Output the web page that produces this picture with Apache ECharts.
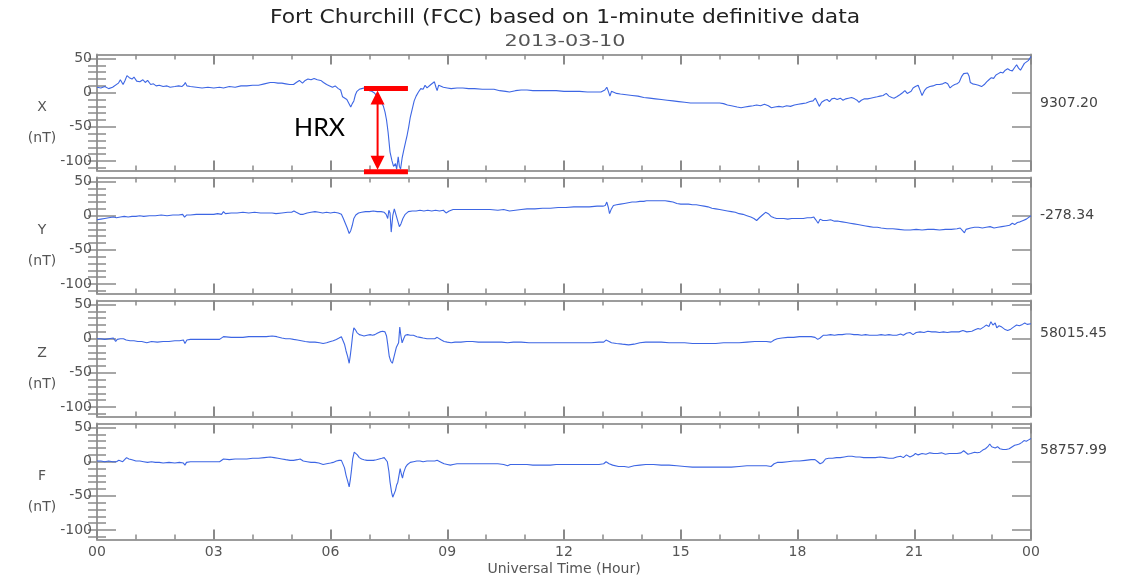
<!DOCTYPE html>
<html><head><meta charset="utf-8">
<script src="https://cdn.jsdelivr.net/npm/echarts@6/dist/echarts.min.js"></script>
<style>html,body{margin:0;padding:0;background:#fff}#c{width:1138px;height:577px}</style>
</head><body><div id="c"></div>
<script>
const titleText = 'Fort Churchill (FCC) based on 1-minute definitive data';
const dateText = '2013-03-10';
const xAxisTitle = 'Universal Time (Hour)';
const componentNames = ['X', 'Y', 'Z', 'F'];
const baselineLabels = ['9307.20', '-278.34', '58015.45', '58757.99'];
const xTickLabels = ['00', '03', '06', '09', '12', '15', '18', '21', '00'];
const yTickValues = [-100, -50, 0, 50];
const yMinorTickValues = [-110, -100, -90, -80, -70, -60, -50, -40, -30, -20, -10, 0, 10, 20, 30, 40, 50];

// [hour, nT]
const dataX = [[0.00,8],[0.10,7],[0.20,9],[0.30,6],[0.40,8],[0.45,7],[0.55,14],[0.60,19],[0.67,12],[0.72,18],[0.77,25],[0.83,22],[0.90,20],[0.95,23],[1.02,17],[1.10,16],[1.18,19],[1.24,15],[1.30,18],[1.38,12],[1.45,13],[1.52,10],[1.60,11],[1.70,9],[1.80,10],[1.88,8],[2.00,9],[2.10,10],[2.18,9],[2.24,12],[2.27,15],[2.31,10],[2.40,9],[2.55,8],[2.70,7],[2.85,8],[3.00,7],[3.15,8],[3.25,7],[3.40,9],[3.55,8],[3.70,10],[3.85,10],[4.00,11],[4.15,11],[4.30,13],[4.45,15],[4.55,15],[4.65,14],[4.75,14],[4.85,13],[4.95,12],[5.05,12],[5.12,15],[5.20,18],[5.28,14],[5.35,18],[5.42,20],[5.50,19],[5.58,21],[5.66,19],[5.75,18],[5.82,15],[5.90,12],[5.98,10],[6.05,8],[6.12,10],[6.20,6],[6.26,4],[6.31,-6],[6.36,-4],[6.42,-10],[6.47,-8],[6.52,-21],[6.56,-16],[6.60,-12],[6.64,-3],[6.68,2],[6.74,5],[6.80,6],[6.86,7],[6.92,5],[7.00,3],[7.06,2],[7.12,0],[7.18,-4],[7.24,-9],[7.30,-13],[7.36,-20],[7.40,-28],[7.44,-40],[7.48,-58],[7.53,-87],[7.58,-100],[7.62,-108],[7.67,-104],[7.70,-112],[7.74,-94],[7.77,-108],[7.80,-112],[7.84,-96],[7.88,-85],[7.93,-72],[7.97,-62],[8.01,-50],[8.05,-36],[8.10,-24],[8.15,-12],[8.20,-5],[8.26,1],[8.32,6],[8.38,5],[8.43,11],[8.48,7],[8.53,6],[8.58,12],[8.63,10],[8.67,16],[8.71,8],[8.74,3],[8.78,11],[8.83,9],[8.90,8],[9.00,7],[9.10,6],[9.25,7],[9.40,7],[9.55,6],[9.70,6],[9.90,5],[10.05,5],[10.20,5],[10.35,3],[10.50,2],[10.60,1],[10.75,3],[10.90,4],[11.05,4],[11.20,3],[11.40,3],[11.60,3],[11.80,3],[12.00,2],[12.20,2],[12.40,2],[12.60,1],[12.80,1],[12.95,1],[13.05,4],[13.10,8],[13.14,2],[13.18,-5],[13.22,2],[13.27,0],[13.35,-1],[13.45,-2],[13.60,-3],[13.75,-4],[13.90,-5],[14.05,-7],[14.20,-8],[14.35,-9],[14.50,-10],[14.65,-11],[14.80,-12],[14.95,-13],[15.10,-14],[15.25,-15],[15.40,-15],[15.55,-15],[15.70,-15],[15.85,-15],[16.00,-15],[16.10,-16],[16.20,-18],[16.30,-19],[16.45,-21],[16.55,-22],[16.65,-21],[16.75,-20],[16.86,-19],[16.95,-18],[17.05,-19],[17.15,-17],[17.25,-19],[17.33,-22],[17.42,-21],[17.52,-20],[17.62,-21],[17.72,-19],[17.82,-20],[17.92,-18],[18.02,-17],[18.12,-16],[18.22,-15],[18.32,-13],[18.40,-12],[18.46,-8],[18.51,-14],[18.56,-20],[18.62,-14],[18.70,-11],[18.76,-10],[18.82,-13],[18.88,-9],[18.95,-8],[19.02,-10],[19.10,-8],[19.17,-11],[19.24,-9],[19.31,-8],[19.39,-7],[19.47,-9],[19.53,-11],[19.58,-14],[19.64,-11],[19.72,-9],[19.80,-9],[19.88,-8],[19.96,-7],[20.05,-6],[20.12,-5],[20.20,-4],[20.28,-1],[20.35,-5],[20.42,-7],[20.48,-8],[20.55,-6],[20.63,-3],[20.70,0],[20.76,3],[20.82,-1],[20.87,-2],[20.92,2],[20.97,7],[21.03,9],[21.10,11],[21.16,2],[21.20,-4],[21.26,3],[21.32,7],[21.40,9],[21.48,10],[21.57,12],[21.65,12],[21.73,13],[21.80,15],[21.86,13],[21.92,7],[21.98,10],[22.04,12],[22.10,13],[22.16,16],[22.22,24],[22.27,28],[22.32,27],[22.37,29],[22.41,24],[22.44,15],[22.50,13],[22.58,12],[22.65,11],[22.73,9],[22.80,12],[22.86,16],[22.92,19],[22.98,22],[23.04,21],[23.10,26],[23.16,28],[23.22,30],[23.28,29],[23.34,33],[23.40,35],[23.46,33],[23.52,32],[23.58,37],[23.63,41],[23.68,36],[23.73,33],[23.78,35],[23.83,43],[23.88,41],[23.93,47],[24.00,53]];

const dataY = [[0.00,-6],[0.10,-5],[0.20,-4],[0.30,-3],[0.35,-5],[0.42,-2],[0.50,-3],[0.60,-2],[0.70,-1],[0.80,-2],[0.90,-1],[1.00,-1],[1.10,0],[1.20,-1],[1.35,0],[1.50,0],[1.65,1],[1.80,0],[1.95,1],[2.10,1],[2.20,2],[2.25,-2],[2.30,1],[2.40,1],[2.55,2],[2.70,2],[2.85,2],[3.00,2],[3.10,3],[3.20,2],[3.25,6],[3.30,3],[3.45,4],[3.60,4],[3.75,5],[3.90,4],[4.05,5],[4.20,4],[4.35,4],[4.50,4],[4.60,3],[4.65,5],[4.75,4],[4.90,5],[5.00,5],[5.06,7],[5.12,5],[5.22,2],[5.30,2],[5.40,4],[5.50,5],[5.60,6],[5.70,5],[5.80,4],[5.90,5],[6.00,4],[6.10,5],[6.20,4],[6.28,2],[6.33,-4],[6.38,-11],[6.43,-18],[6.48,-26],[6.52,-22],[6.56,-14],[6.60,-4],[6.65,1],[6.72,4],[6.80,5],[6.90,6],[7.00,6],[7.10,7],[7.20,6],[7.30,6],[7.38,5],[7.43,2],[7.47,-4],[7.50,8],[7.53,4],[7.56,-24],[7.60,0],[7.64,10],[7.68,2],[7.72,-6],[7.77,-16],[7.81,-12],[7.86,-4],[7.92,2],[8.00,6],[8.10,7],[8.20,7],[8.30,8],[8.40,7],[8.50,8],[8.60,7],[8.70,8],[8.80,7],[8.90,8],[8.97,4],[9.05,7],[9.15,9],[9.30,9],[9.50,9],[9.70,9],[9.90,9],[10.10,9],[10.30,8],[10.45,9],[10.60,7],[10.75,8],[10.90,9],[11.05,10],[11.25,10],[11.45,11],[11.65,11],[11.85,12],[12.05,12],[12.25,13],[12.45,13],[12.65,13],[12.85,14],[13.00,14],[13.06,15],[13.10,20],[13.14,12],[13.17,3],[13.21,9],[13.27,15],[13.35,16],[13.45,17],[13.55,18],[13.65,19],[13.75,20],[13.85,20],[13.95,21],[14.05,21],[14.12,22],[14.20,22],[14.30,22],[14.40,22],[14.50,22],[14.60,22],[14.70,21],[14.80,20],[14.90,18],[15.00,17],[15.10,17],[15.20,17],[15.30,16],[15.40,16],[15.50,15],[15.60,14],[15.70,13],[15.80,11],[15.90,10],[16.00,9],[16.10,8],[16.20,7],[16.30,6],[16.40,5],[16.50,3],[16.60,2],[16.70,0],[16.80,-2],[16.88,-4],[16.95,-7],[17.02,-3],[17.10,1],[17.18,5],[17.25,3],[17.32,-1],[17.40,-3],[17.46,-4],[17.55,-4],[17.65,-4],[17.75,-5],[17.85,-4],[17.95,-4],[18.05,-4],[18.15,-4],[18.25,-3],[18.35,-3],[18.42,-2],[18.47,-6],[18.53,-11],[18.58,-5],[18.65,-7],[18.75,-7],[18.85,-6],[18.95,-8],[19.05,-8],[19.15,-9],[19.25,-10],[19.35,-11],[19.45,-12],[19.55,-13],[19.65,-14],[19.75,-15],[19.85,-16],[19.95,-17],[20.05,-17],[20.15,-18],[20.30,-19],[20.45,-19],[20.60,-20],[20.75,-21],[20.90,-21],[21.05,-20],[21.20,-21],[21.35,-20],[21.50,-20],[21.65,-21],[21.80,-20],[21.95,-20],[22.10,-19],[22.18,-18],[22.24,-22],[22.29,-25],[22.33,-20],[22.38,-19],[22.45,-18],[22.55,-17],[22.65,-17],[22.75,-18],[22.85,-17],[22.95,-16],[23.05,-18],[23.15,-17],[23.25,-16],[23.35,-15],[23.45,-14],[23.52,-11],[23.58,-13],[23.65,-10],[23.72,-9],[23.80,-7],[23.88,-5],[23.95,-2],[24.00,0]];

const dataZ = [[0.00,0],[0.10,0],[0.20,-1],[0.30,0],[0.35,-1],[0.42,1],[0.48,-4],[0.52,-1],[0.60,0],[0.68,0],[0.75,-2],[0.85,-3],[0.95,-3],[1.05,-4],[1.15,-4],[1.28,-6],[1.40,-4],[1.55,-5],[1.70,-4],[1.85,-4],[2.00,-3],[2.12,-3],[2.22,-2],[2.26,-7],[2.31,-2],[2.40,-1],[2.55,-1],[2.70,-1],[2.85,-1],[3.00,-1],[3.15,-1],[3.20,0],[3.25,3],[3.30,2],[3.45,2],[3.60,2],[3.75,2],[3.90,3],[4.05,3],[4.20,3],[4.35,3],[4.50,4],[4.62,3],[4.75,1],[4.85,0],[4.96,0],[5.05,-1],[5.15,-2],[5.25,-3],[5.35,-4],[5.47,-5],[5.60,-5],[5.72,-6],[5.81,-7],[5.90,-6],[6.00,-4],[6.07,-3],[6.15,-1],[6.22,1],[6.28,3],[6.32,1],[6.36,-8],[6.40,-18],[6.44,-26],[6.48,-36],[6.51,-24],[6.54,-10],[6.57,6],[6.60,16],[6.64,13],[6.68,9],[6.74,6],[6.80,5],[6.86,4],[6.94,5],[7.02,6],[7.08,5],[7.14,6],[7.20,8],[7.27,10],[7.34,11],[7.40,10],[7.44,4],[7.47,-8],[7.51,-26],[7.55,-33],[7.59,-36],[7.63,-35],[7.66,-20],[7.69,-13],[7.72,-12],[7.75,-6],[7.78,17],[7.81,4],[7.84,-6],[7.88,0],[7.92,5],[7.98,6],[8.05,5],[8.13,5],[8.22,3],[8.30,2],[8.38,1],[8.48,0],[8.58,0],[8.68,0],[8.74,2],[8.78,0],[8.85,-2],[8.92,-4],[9.00,-5],[9.10,-6],[9.20,-5],[9.35,-5],[9.50,-4],[9.65,-4],[9.80,-5],[10.00,-5],[10.20,-5],[10.40,-5],[10.55,-6],[10.70,-5],[10.90,-5],[11.10,-6],[11.30,-6],[11.50,-6],[11.70,-6],[11.90,-6],[12.10,-6],[12.30,-6],[12.50,-6],[12.70,-6],[12.90,-5],[13.02,-5],[13.08,-2],[13.12,-1],[13.16,-4],[13.22,-6],[13.35,-7],[13.50,-8],[13.66,-9],[13.80,-8],[13.95,-6],[14.10,-5],[14.30,-5],[14.50,-5],[14.70,-6],[14.90,-6],[15.10,-6],[15.30,-7],[15.50,-7],[15.70,-7],[15.90,-7],[16.10,-6],[16.30,-6],[16.50,-6],[16.70,-5],[16.90,-4],[17.05,-4],[17.20,-4],[17.32,-5],[17.40,-2],[17.48,0],[17.60,1],[17.75,2],[17.90,2],[18.05,3],[18.20,3],[18.35,3],[18.45,2],[18.52,-1],[18.58,1],[18.66,5],[18.75,5],[18.85,6],[18.95,5],[19.05,6],[19.15,6],[19.25,7],[19.35,7],[19.45,6],[19.55,6],[19.65,5],[19.75,6],[19.85,5],[19.95,5],[20.05,5],[20.15,6],[20.25,5],[20.35,6],[20.45,5],[20.55,5],[20.65,7],[20.72,5],[20.80,8],[20.89,9],[20.97,6],[21.05,9],[21.15,10],[21.25,9],[21.35,11],[21.45,10],[21.55,10],[21.65,9],[21.75,10],[21.85,9],[21.95,10],[22.05,10],[22.15,10],[22.25,12],[22.30,14],[22.35,10],[22.40,8],[22.48,11],[22.56,13],[22.64,15],[22.70,14],[22.78,17],[22.85,20],[22.92,18],[22.97,25],[23.02,20],[23.08,23],[23.12,16],[23.18,19],[23.25,17],[23.32,14],[23.40,12],[23.48,14],[23.55,17],[23.63,20],[23.70,19],[23.78,21],[23.84,23],[23.90,21],[23.95,23],[24.00,22]];

const dataF = [[0.00,1],[0.10,1],[0.20,0],[0.30,1],[0.40,0],[0.50,0],[0.56,2],[0.61,4],[0.66,0],[0.71,3],[0.76,6],[0.82,4],[0.90,3],[1.00,1],[1.10,1],[1.20,0],[1.30,-1],[1.40,0],[1.50,-1],[1.60,-1],[1.70,-2],[1.85,-1],[2.00,-2],[2.12,-1],[2.22,-2],[2.26,-5],[2.30,-1],[2.40,0],[2.55,0],[2.70,0],[2.85,0],[3.00,0],[3.15,0],[3.20,-1],[3.25,4],[3.30,5],[3.40,3],[3.55,4],[3.70,4],[3.85,4],[4.00,5],[4.15,5],[4.30,6],[4.45,7],[4.55,6],[4.65,5],[4.75,4],[4.85,3],[4.96,2],[5.05,2],[5.15,3],[5.22,4],[5.30,1],[5.40,0],[5.50,-1],[5.60,-1],[5.70,-2],[5.81,-4],[5.90,-3],[6.00,-2],[6.07,-1],[6.15,1],[6.22,2],[6.28,2],[6.32,0],[6.36,-9],[6.40,-20],[6.44,-28],[6.48,-37],[6.51,-26],[6.54,-12],[6.57,4],[6.61,14],[6.65,13],[6.69,10],[6.74,6],[6.80,4],[6.86,3],[6.94,2],[7.02,2],[7.10,2],[7.18,3],[7.25,4],[7.32,5],[7.38,6],[7.43,6],[7.46,0],[7.50,-14],[7.53,-30],[7.57,-45],[7.60,-52],[7.64,-52],[7.67,-42],[7.70,-34],[7.73,-30],[7.76,-20],[7.79,-10],[7.82,-18],[7.85,-24],[7.88,-16],[7.93,-8],[7.98,-4],[8.05,-1],[8.13,0],[8.22,1],[8.30,1],[8.38,0],[8.48,1],[8.58,1],[8.68,1],[8.74,2],[8.79,0],[8.85,-1],[8.92,-3],[9.00,-4],[9.08,-5],[9.15,-4],[9.25,-3],[9.40,-3],[9.55,-3],[9.70,-3],[9.85,-3],[10.00,-3],[10.15,-3],[10.30,-3],[10.45,-4],[10.55,-6],[10.62,-4],[10.75,-4],[10.90,-4],[11.05,-4],[11.20,-5],[11.35,-5],[11.50,-5],[11.65,-5],[11.80,-4],[11.95,-4],[12.10,-4],[12.30,-4],[12.50,-4],[12.70,-4],[12.90,-4],[13.02,-3],[13.08,0],[13.12,1],[13.16,-3],[13.25,-5],[13.40,-7],[13.55,-7],[13.66,-8],[13.80,-6],[13.95,-5],[14.10,-4],[14.30,-4],[14.50,-5],[14.70,-5],[14.90,-6],[15.10,-7],[15.30,-8],[15.50,-8],[15.70,-8],[15.90,-8],[16.10,-8],[16.30,-8],[16.50,-7],[16.70,-6],[16.90,-6],[17.05,-6],[17.20,-6],[17.32,-7],[17.40,-3],[17.48,-1],[17.60,-1],[17.75,0],[17.90,1],[18.05,1],[18.20,2],[18.35,3],[18.45,3],[18.52,0],[18.58,-3],[18.65,-1],[18.72,4],[18.80,5],[18.90,5],[19.00,6],[19.10,6],[19.20,7],[19.30,8],[19.40,8],[19.50,7],[19.60,7],[19.70,6],[19.80,6],[19.90,6],[20.00,6],[20.12,7],[20.25,6],[20.35,5],[20.46,5],[20.55,7],[20.65,8],[20.72,6],[20.80,10],[20.89,7],[20.97,9],[21.03,12],[21.10,10],[21.20,12],[21.30,11],[21.40,13],[21.50,12],[21.60,12],[21.70,13],[21.80,11],[21.90,12],[22.00,12],[22.10,12],[22.20,13],[22.27,16],[22.32,17],[22.38,11],[22.45,12],[22.55,14],[22.62,13],[22.69,14],[22.76,17],[22.83,19],[22.89,22],[22.94,26],[22.99,22],[23.03,24],[23.08,20],[23.14,22],[23.20,19],[23.28,18],[23.36,18],[23.44,19],[23.52,22],[23.58,24],[23.64,25],[23.70,26],[23.76,28],[23.82,31],[23.88,30],[23.94,32],[24.00,34]];

// HRX annotation in data coordinates of the X panel
const hrxLabel = 'HRX';
const hrxBarStartHour = 6.86;
const hrxBarEndHour = 7.99;
const hrxArrowHour = 7.21;
const hrxTopValue = 6;
const hrxBottomValue = -116;
const hrxTextHour = 5.72;
const hrxTextValue = -51;
</script>
<script>
const seriesData = [dataX, dataY, dataZ, dataF];
const chart = echarts.init(document.getElementById('c'), null, {renderer: 'canvas'});
const FONT = 'DejaVu Sans';
const gridTops = [54.5, 177.5, 300.5, 423.5];
const GRID_H = 116, GRID_L = 97, GRID_R = 107;
const Y_MIN = -114, Y_MAX = 56;
const frameColor = '#9c9c9c';
const tickColor = '#8a8a8a';
const labelColor = '#555';
const lineColor = '#3d66e4';
// vertical placement of the baseline value text in each panel (pixels)
const baselineTextY = [103, 215, 333, 450];

const grids = [], xAxes = [], yAxes = [], series = [];
for (let i = 0; i < 4; i++) {
  grids.push({left: GRID_L, right: GRID_R, top: gridTops[i], height: GRID_H, outerBoundsMode: 'none', containLabel: false});
  const isLast = i === 3;
  const xCommon = {
    type: 'value', gridIndex: i, min: 0, max: 24, interval: 3,
    axisLine: {show: true, onZero: false, lineStyle: {color: frameColor, width: 2}},
    axisTick: {show: true, inside: true, length: 10, lineStyle: {color: tickColor, width: 2}},
    minorTick: {show: true, splitNumber: 3, length: 5, lineStyle: {color: tickColor, width: 1.5}},
    splitLine: {show: false}, minorSplitLine: {show: false}
  };
  xAxes.push(Object.assign({}, xCommon, {
    position: 'bottom',
    axisLabel: {show: isLast, margin: 6, color: labelColor, fontFamily: FONT, fontSize: 14,
      formatter: v => xTickLabels[Math.round(v / 3)]},
    name: isLast ? xAxisTitle : '', nameLocation: 'middle', nameGap: 23,
    nameTextStyle: {color: labelColor, fontFamily: FONT, fontSize: 14}
  }));
  xAxes.push(Object.assign({}, xCommon, {position: 'top', axisLabel: {show: false}}));

  const yCommon = {type: 'value', gridIndex: i, min: Y_MIN, max: Y_MAX, splitLine: {show: false}};
  yAxes.push(Object.assign({}, yCommon, {
    position: 'left',
    axisLine: {show: true, onZero: false, lineStyle: {color: frameColor, width: 2}},
    axisTick: {show: true, inside: true, length: 19, customValues: yTickValues, lineStyle: {color: tickColor, width: 1.5}},
    axisLabel: {show: true, margin: 5, customValues: yTickValues, color: labelColor, fontFamily: FONT, fontSize: 14}
  }));
  yAxes.push(Object.assign({}, yCommon, {
    position: 'left',
    axisLine: {show: false},
    axisTick: {show: true, inside: true, length: 9, customValues: yMinorTickValues, lineStyle: {color: tickColor, width: 1.5}},
    axisLabel: {show: false}
  }));
  yAxes.push(Object.assign({}, yCommon, {
    position: 'right',
    axisLine: {show: true, onZero: false, lineStyle: {color: frameColor, width: 2}},
    axisTick: {show: true, inside: true, length: 19, customValues: yTickValues, lineStyle: {color: tickColor, width: 1.5}},
    axisLabel: {show: false}
  }));
  yAxes.push(Object.assign({}, yCommon, {
    position: 'right',
    axisLine: {show: false},
    axisTick: {show: true, inside: true, length: 9, customValues: yMinorTickValues, lineStyle: {color: tickColor, width: 1.5}},
    axisLabel: {show: false}
  }));
  series.push({
    type: 'line', name: componentNames[i], xAxisIndex: i * 2, yAxisIndex: i * 4,
    data: seriesData[i], showSymbol: false, symbol: 'none', animation: false,
    lineStyle: {color: lineColor, width: 1.1}, clip: true
  });
}

chart.setOption({
  backgroundColor: '#fff', animation: false,
  grid: grids, xAxis: xAxes, yAxis: yAxes, series: series
});

// Text and annotation overlays
const g = [];
g.push({type: 'text', x: 565, y: 18, scaleX: 1.15, style: {text: titleText, fill: '#222', font: '19px "' + FONT + '"', align: 'center', verticalAlign: 'middle'}});
g.push({type: 'text', x: 565, y: 42, scaleX: 1.3, style: {text: dateText, fill: '#555', font: '16px "' + FONT + '"', align: 'center', verticalAlign: 'middle'}});
for (let i = 0; i < 4; i++) {
  const zero = chart.convertToPixel({seriesIndex: i}, [24, 0]);
  g.push({type: 'text', x: 42, y: zero[1] + 15, style: {text: componentNames[i], fill: labelColor, font: '14px "' + FONT + '"', align: 'center', verticalAlign: 'middle'}});
  g.push({type: 'text', x: 42, y: zero[1] + 46, style: {text: '(nT)', fill: labelColor, font: '14px "' + FONT + '"', align: 'center', verticalAlign: 'middle'}});
  g.push({type: 'text', x: zero[0] + 9, y: baselineTextY[i], style: {text: baselineLabels[i], fill: '#444', font: '14px "' + FONT + '"', align: 'left', verticalAlign: 'middle'}});
}
const pTopL = chart.convertToPixel({seriesIndex: 0}, [hrxBarStartHour, hrxTopValue]);
const pTopR = chart.convertToPixel({seriesIndex: 0}, [hrxBarEndHour, hrxTopValue]);
const pBotL = chart.convertToPixel({seriesIndex: 0}, [hrxBarStartHour, hrxBottomValue]);
const pBotR = chart.convertToPixel({seriesIndex: 0}, [hrxBarEndHour, hrxBottomValue]);
const pArrT = chart.convertToPixel({seriesIndex: 0}, [hrxArrowHour, hrxTopValue]);
const pArrB = chart.convertToPixel({seriesIndex: 0}, [hrxArrowHour, hrxBottomValue]);
const pTxt = chart.convertToPixel({seriesIndex: 0}, [hrxTextHour, hrxTextValue]);
const red = '#ff0000';
g.push({type: 'rect', shape: {x: pTopL[0], y: pTopL[1] - 2.5, width: pTopR[0] - pTopL[0], height: 5}, style: {fill: red}, z: 100});
g.push({type: 'rect', shape: {x: pBotL[0], y: pBotL[1] - 2.5, width: pBotR[0] - pBotL[0], height: 5}, style: {fill: red}, z: 100});
const ax = pArrT[0], ty = pArrT[1] + 2, by = pArrB[1] - 2;
g.push({type: 'line', shape: {x1: ax, y1: ty + 10, x2: ax, y2: by - 10}, style: {stroke: red, lineWidth: 2}, z: 100});
g.push({type: 'polygon', shape: {points: [[ax, ty], [ax - 7, ty + 14], [ax + 7, ty + 14]]}, style: {fill: red}, z: 100});
g.push({type: 'polygon', shape: {points: [[ax, by], [ax - 7, by - 14], [ax + 7, by - 14]]}, style: {fill: red}, z: 100});
g.push({type: 'text', x: pTxt[0], y: pTxt[1], style: {text: hrxLabel, fill: '#000', font: '25px Lato', align: 'center', verticalAlign: 'middle'}, z: 100});
chart.setOption({graphic: g});
</script>
</body></html>
